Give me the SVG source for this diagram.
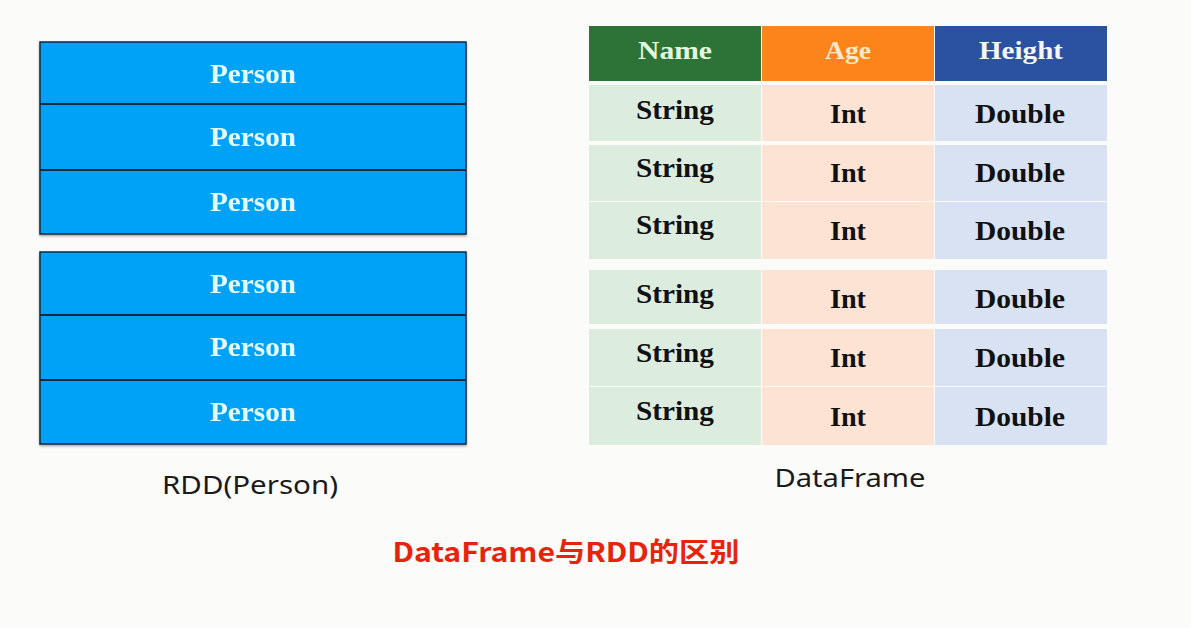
<svg xmlns="http://www.w3.org/2000/svg" width="1191" height="628" viewBox="0 0 1191 628">
<defs>
<style>
.bg{fill:#fbfbf9}
.blk{fill:#00a2f8;stroke:#0a2a40;stroke-width:1.5}
.div{stroke:#0a2a40;stroke-width:2}
.person{font-family:"Liberation Serif",serif;font-weight:bold;font-size:28px;fill:#e4fdff;text-anchor:middle}
.hdr{font-family:"Liberation Serif",serif;font-weight:bold;font-size:26px;text-anchor:middle}
.cell{font-family:"Liberation Serif",serif;font-weight:bold;font-size:27px;fill:#111;text-anchor:middle}
.g{fill:#dcede0}.o{fill:#fde3d3}.b{fill:#d9e2f2}
.lbl{font-family:"Noto Sans","Liberation Sans",sans-serif;font-size:26px;fill:#1a1a1a;text-anchor:middle}
.title{font-family:"Noto Sans CJK SC","Noto Sans",sans-serif;font-weight:bold;font-size:27px;fill:#e8230c;text-anchor:middle}
</style>
<filter id="sh" x="-5%" y="-5%" width="110%" height="115%"><feDropShadow dx="0" dy="1.5" stdDeviation="1.2" flood-opacity="0.35"/></filter>
</defs>
<rect class="bg" x="0" y="0" width="1191" height="628"/>
<g id="rdd1" filter="url(#sh)">
<rect class="blk" x="40" y="42" width="426" height="192"/>
<line class="div" x1="40" y1="104" x2="466" y2="104"/>
<line class="div" x1="40" y1="170" x2="466" y2="170"/>
<text class="person" x="253" y="83" textLength="86" lengthAdjust="spacingAndGlyphs">Person</text>
<text class="person" x="253" y="146" textLength="86" lengthAdjust="spacingAndGlyphs">Person</text>
<text class="person" x="253" y="211" textLength="86" lengthAdjust="spacingAndGlyphs">Person</text>
</g>
<g id="rdd2" filter="url(#sh)">
<rect class="blk" x="40" y="252" width="426" height="192"/>
<line class="div" x1="40" y1="315" x2="466" y2="315"/>
<line class="div" x1="40" y1="380" x2="466" y2="380"/>
<text class="person" x="253" y="293" textLength="86" lengthAdjust="spacingAndGlyphs">Person</text>
<text class="person" x="253" y="356" textLength="86" lengthAdjust="spacingAndGlyphs">Person</text>
<text class="person" x="253" y="421" textLength="86" lengthAdjust="spacingAndGlyphs">Person</text>
</g>
<g id="header">
<rect x="589" y="26" width="172" height="55" fill="#2d7337"/>
<rect x="762" y="26" width="172" height="55" fill="#fd841a"/>
<rect x="935" y="26" width="172" height="55" fill="#2a52a0"/>
<text class="hdr" x="675" y="59" fill="#e2f7df" textLength="74" lengthAdjust="spacingAndGlyphs">Name</text>
<text class="hdr" x="848" y="59" fill="#fde8c8" textLength="46" lengthAdjust="spacingAndGlyphs">Age</text>
<text class="hdr" x="1021" y="59" fill="#f4f6fb" textLength="84" lengthAdjust="spacingAndGlyphs">Height</text>
</g>
<g id="rows1">
<rect class="g" x="589" y="85" width="172" height="56"/>
<rect class="o" x="762" y="85" width="172" height="56"/>
<rect class="b" x="935" y="85" width="172" height="56"/>
<rect class="g" x="589" y="145" width="172" height="56"/>
<rect class="o" x="762" y="145" width="172" height="56"/>
<rect class="b" x="935" y="145" width="172" height="56"/>
<rect class="g" x="589" y="202" width="172" height="57"/>
<rect class="o" x="762" y="202" width="172" height="57"/>
<rect class="b" x="935" y="202" width="172" height="57"/>
<text class="cell" x="675" y="119" textLength="78" lengthAdjust="spacingAndGlyphs">String</text><text class="cell" x="848" y="123" textLength="36" lengthAdjust="spacingAndGlyphs">Int</text><text class="cell" x="1020" y="123" textLength="90" lengthAdjust="spacingAndGlyphs">Double</text>
<text class="cell" x="675" y="177" textLength="78" lengthAdjust="spacingAndGlyphs">String</text><text class="cell" x="848" y="182" textLength="36" lengthAdjust="spacingAndGlyphs">Int</text><text class="cell" x="1020" y="182" textLength="90" lengthAdjust="spacingAndGlyphs">Double</text>
<text class="cell" x="675" y="234" textLength="78" lengthAdjust="spacingAndGlyphs">String</text><text class="cell" x="848" y="240" textLength="36" lengthAdjust="spacingAndGlyphs">Int</text><text class="cell" x="1020" y="240" textLength="90" lengthAdjust="spacingAndGlyphs">Double</text>
</g>
<g id="rows2">
<rect class="g" x="589" y="270" width="172" height="54"/>
<rect class="o" x="762" y="270" width="172" height="54"/>
<rect class="b" x="935" y="270" width="172" height="54"/>
<rect class="g" x="589" y="329" width="172" height="57"/>
<rect class="o" x="762" y="329" width="172" height="57"/>
<rect class="b" x="935" y="329" width="172" height="57"/>
<rect class="g" x="589" y="387" width="172" height="58"/>
<rect class="o" x="762" y="387" width="172" height="58"/>
<rect class="b" x="935" y="387" width="172" height="58"/>
<text class="cell" x="675" y="303" textLength="78" lengthAdjust="spacingAndGlyphs">String</text><text class="cell" x="848" y="308" textLength="36" lengthAdjust="spacingAndGlyphs">Int</text><text class="cell" x="1020" y="308" textLength="90" lengthAdjust="spacingAndGlyphs">Double</text>
<text class="cell" x="675" y="362" textLength="78" lengthAdjust="spacingAndGlyphs">String</text><text class="cell" x="848" y="367" textLength="36" lengthAdjust="spacingAndGlyphs">Int</text><text class="cell" x="1020" y="367" textLength="90" lengthAdjust="spacingAndGlyphs">Double</text>
<text class="cell" x="675" y="420" textLength="78" lengthAdjust="spacingAndGlyphs">String</text><text class="cell" x="848" y="426" textLength="36" lengthAdjust="spacingAndGlyphs">Int</text><text class="cell" x="1020" y="426" textLength="90" lengthAdjust="spacingAndGlyphs">Double</text>
</g>
<g id="connectors"></g>
<g id="labels">
<text class="lbl" x="250" y="494" textLength="176" lengthAdjust="spacingAndGlyphs">RDD(Person)</text>
<text class="lbl" x="850" y="487" textLength="151" lengthAdjust="spacingAndGlyphs">DataFrame</text>
<text class="title" x="566" y="562" textLength="347" lengthAdjust="spacingAndGlyphs">DataFrame与RDD的区别</text>
</g>
</svg>
